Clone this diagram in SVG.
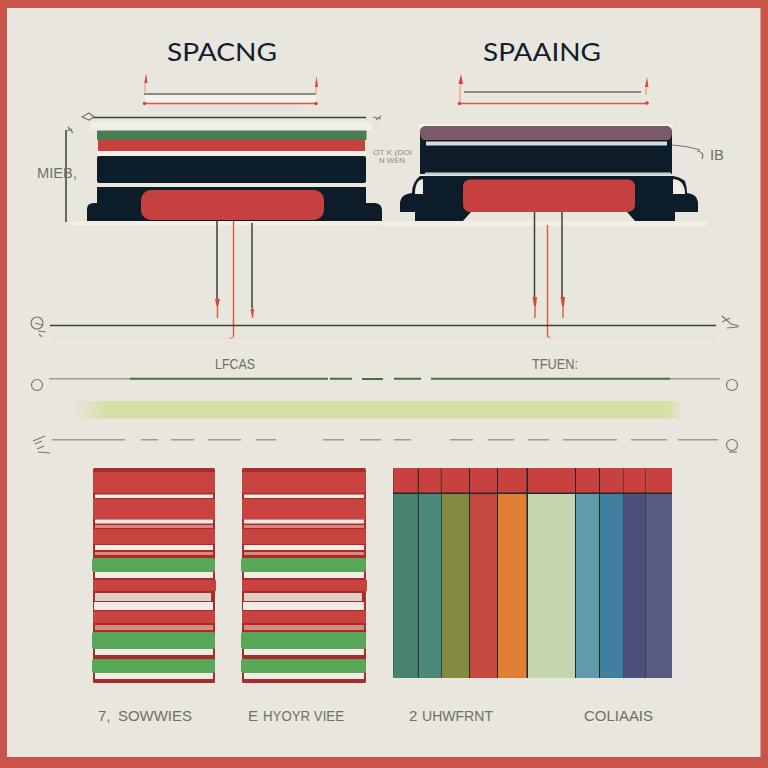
<svg xmlns="http://www.w3.org/2000/svg" width="768" height="768" viewBox="0 0 768 768">
<style>
.navy{fill:#0c1d29}
.red{fill:#c5403f}
.dk{stroke:#3a3f3d;stroke-width:1.5;fill:none}
.rl{stroke:#e0554c;stroke-width:1.4;fill:none}
.gl{stroke:#9b9c92;stroke-width:1.5;fill:none}
.gn{stroke:#4c6e3c;stroke-width:2;fill:none}
.ic{stroke:#77786f;stroke-width:1.2;fill:none}
.ah{fill:#e0433c}
text{font-family:"Liberation Sans",sans-serif}
.title{font-family:"Lato","Liberation Sans",sans-serif;font-size:25px;fill:#10202c}
.lab{font-size:15px;fill:#6f6f68}
.sm{font-size:7px;fill:#8a8a82}
.r{fill:#c8433f}.g{fill:#58a658}.w{fill:#f3ece3}.p{fill:#dcd0c9}.k{fill:#d98a80}
</style>
<defs>
<linearGradient id="band" x1="0" x2="1" y1="0" y2="0"><stop offset="0" stop-color="#d7dea6" stop-opacity="0"/><stop offset="0.06" stop-color="#d7dea6"/><stop offset="0.98" stop-color="#d7dea6"/><stop offset="1" stop-color="#d7dea6" stop-opacity="0.2"/></linearGradient>
<g id="stack">
<rect x="0" y="0" width="122" height="215" rx="1.5" fill="#a92c2c"/>
<rect class="r" y="4" width="122" height="21"/>
<rect class="w" x="2" y="26.500" width="118" height="3.500"/>
<rect class="r" y="31" width="122" height="20"/>
<rect class="w" x="2" y="51.500" width="118" height="4"/>
<rect class="k" x="2" y="57" width="118" height="3"/>
<rect class="r" y="61" width="122" height="15"/>
<rect class="w" x="2" y="77" width="118" height="5"/>
<rect class="k" x="2" y="84" width="118" height="3"/>
<rect class="g" x="-1" y="90" width="123" height="14" rx="2"/>
<rect class="w" x="2" y="104" width="118" height="6"/>
<rect class="r" y="112" width="123" height="11"/>
<rect class="p" x="2" y="125" width="116" height="8"/>
<rect class="w" x="1" y="134" width="119" height="8"/>
<rect class="r" y="143" width="122" height="12"/>
<rect class="k" x="2" y="157" width="118" height="5"/>
<rect class="g" x="-1" y="164" width="123" height="17" rx="2"/>
<rect class="w" x="2" y="181" width="118" height="6"/>
<rect class="g" x="-1" y="191" width="123" height="14" rx="2"/>
<rect class="w" x="2" y="205" width="118" height="6"/>
</g>
</defs>

<rect width="768" height="768" fill="#c9544a"/>
<rect x="7" y="8" width="753.500" height="749" fill="#e9e6de"/>

<g id="title-left"><text class="title" x="167" y="61" textLength="110" lengthAdjust="spacingAndGlyphs">SPACNG</text></g>
<g id="title-right"><text class="title" x="483" y="61" textLength="118" lengthAdjust="spacingAndGlyphs">SPAAING</text></g>

<g id="block-left">
<rect x="90" y="122" width="282" height="9" fill="#f1eee7"/>
<rect x="70" y="221" width="322" height="4" fill="#f3efe7"/>
<rect x="97" y="130.500" width="269.500" height="9.500" fill="#4c7c53"/>
<rect class="red" x="98" y="140" width="267" height="11"/>
<rect x="97" y="151" width="269" height="5" fill="#f3efe7"/>
<rect class="navy" x="97" y="156" width="269" height="27" rx="2"/>
<path class="navy" d="M97 187H366V203H375Q382 204 382 210V221H87V209Q87 203 94 203H97Z"/>
<rect class="red" x="141" y="190" width="183" height="30" rx="10"/>
</g>

<g id="block-right">
<rect x="382" y="221" width="325" height="5" fill="#f3efe7"/>
<rect x="419" y="124" width="254" height="4" fill="#f6f2ea"/>
<path class="navy" d="M420 174V133Q420 126 427 126H665Q672 126 672 133V174Z"/>
<path fill="#7a5a66" d="M420 133Q420 126 427 126H665Q672 126 672 133Q671 140 668 140H424Q421 140 420 133Z"/>
<rect x="426" y="141.500" width="241" height="4" fill="#d9dde0"/>
<path class="navy" d="M420 176H673Q680 177 685 181Q687 187 687 193Q697 194 698 202V212H675V221H635L627 212H471L463 221H415V212H400V202Q401 194 412 193Q412 182 420 176Z"/>
<path fill="#f0ece2" d="M423 179Q415 180 415 194H423Z"/>
<path fill="#f0ece2" d="M673 179Q685 180 685 194H673Z"/>
<rect x="425" y="172.500" width="246" height="2.500" fill="#c3d3d6"/>
<rect class="red" x="463" y="179.500" width="172" height="32.500" rx="7"/>
</g>

<g id="connectors">
<rect x="145" y="95" width="171" height="8" fill="#f3f1ec"/>
<rect x="147" y="104" width="150" height="7" fill="#e3e2dc"/>
<path class="gl" d="M144 94H316" stroke-width="2" style="stroke:#6d6f68"/>
<path class="rl" d="M144 103.500H317"/>
<path class="rl" d="M145 92V80M316 95V82" style="stroke:#eda69d"/>
<path class="ah" d="M146 73L147.500 83H144.500ZM316.500 76L318 87H315ZM461 74L463 84H458.500ZM647 77L648.500 87H645Z"/>
<circle cx="144.500" cy="103.500" r="1.800" fill="#e0433c"/><circle cx="316" cy="103.500" r="1.800" fill="#e0433c"/>
<path class="dk" d="M93 117.500H366"/>
<path class="ic" d="M82 117L89 113L94 117L89 120Z"/>
<path class="ic" d="M373 117L381 119M376 120L381 116"/>
<path class="dk" d="M66 130V222"/>
<path class="ic" d="M66 131L72 129M68 127L73 133"/>

<path class="gl" d="M464 92H641" style="stroke:#6d6f68" stroke-width="2"/>
<path class="rl" d="M459 103.500H647"/>
<path class="rl" d="M460 103V84M646 95V87" style="stroke:#eda69d"/>
<circle cx="459.500" cy="103.500" r="1.800" fill="#e0433c"/><circle cx="647" cy="103" r="1.800" fill="#e0433c"/>
<path class="ic" d="M672 145Q688 146 700 150M697 151Q705 152 702 159"/>

<path class="dk" d="M217 221V300"/><path class="rl" d="M217.500 300V318"/>
<path class="rl" d="M233.500 221V336Q233 339 230 338"/>
<path class="dk" d="M252 223V308"/><path class="rl" d="M252.500 308V318"/>
<path class="dk" d="M534.500 212V298"/><path class="rl" d="M535 298V318"/>
<path class="rl" d="M547.500 225V336L550 338"/>
<path class="dk" d="M562 212V298"/><path class="rl" d="M563 298V318"/>
<path class="ah" d="M215 299H220L218 306H216.500ZM250.500 309H254L253 316H252ZM532.500 297H537L536 306H534ZM560.500 297H565L564 306H562Z"/>

<path class="dk" d="M50 325.500H716"/>
<path d="M50 338H718" stroke="#dcdad0" stroke-width="1" fill="none"/>
<circle class="ic" cx="37" cy="323" r="6"/>
<path class="ic" d="M35 323L42 325M38 331L46 332M39 334L42 337"/>
<path class="ic" d="M722 316L731 324L739 326M722 322L730 318M727 328L738 327"/>

<path class="gl" d="M49 378.700H130M670 378.700H720"/>
<path class="gn" d="M130 378.700H328M330 378.700H352M362 379H383M394 378.700H421M431 378.700H670"/>
<rect x="72" y="401" width="608" height="17.500" fill="url(#band)"/>
<circle class="ic" cx="37" cy="385" r="5.500" stroke-width="1.600"/>
<circle class="ic" cx="732" cy="385" r="5.500" stroke-width="1.600"/>
<path class="gl" d="M52 439.700H125M141 439.700H158M171 439.700H194M208 439.700H241M256 439.700H276M323 439.700H344M360 439.700H381M394 439.700H411M450 439.700H473M488 439.700H514M528 439.700H549M563 439.700H617M631 439.700H667M678 439.700H718"/>
<path class="ic" d="M33 441L45 436M35 444L42 441M37 449L44 446M38 452L50 453" stroke-width="1.500"/>
<circle class="ic" cx="732" cy="445" r="5.500" stroke-width="1.600"/>
<path class="ic" d="M729 452H737" stroke-width="1.500"/>
</g>

<g id="labels">
<text class="lab" x="37" y="178" textLength="40" lengthAdjust="spacingAndGlyphs">MIEB,</text>
<text class="sm" x="373" y="155" textLength="39" lengthAdjust="spacingAndGlyphs">OT K (DOI</text>
<text class="sm" x="379" y="163" textLength="26" lengthAdjust="spacingAndGlyphs">N WEN</text>
<text class="lab" x="710" y="160" textLength="14" lengthAdjust="spacingAndGlyphs">IB</text>
<text class="lab" x="215" y="369" textLength="40" lengthAdjust="spacingAndGlyphs">LFCAS</text>
<text class="lab" x="532" y="369" textLength="46" lengthAdjust="spacingAndGlyphs">TFUEN:</text>
<text class="lab" x="98" y="721">7,</text>
<text class="lab" x="118" y="721" textLength="74" lengthAdjust="spacingAndGlyphs">SOWWIES</text>
<text class="lab" x="248" y="721">E</text>
<text class="lab" x="263" y="721" textLength="81" lengthAdjust="spacingAndGlyphs">HYOYR VIEE</text>
<text class="lab" x="409" y="721">2</text>
<text class="lab" x="422" y="721" textLength="71" lengthAdjust="spacingAndGlyphs">UHWFRNT</text>
<text class="lab" x="584" y="721" textLength="69" lengthAdjust="spacingAndGlyphs">COLIAAIS</text>
</g>

<g id="stack-1"><use href="#stack" x="93" y="468"/></g>
<g id="stack-2"><use href="#stack" transform="translate(242 468) scale(1.016 1)"/></g>

<g id="columns">
<rect x="393" y="468" width="279" height="210" rx="2" fill="#1f2a2c"/>
<rect x="393.300" y="494" width="24.500" height="184" fill="#4a8270"/>
<rect x="418.800" y="494" width="22.500" height="184" fill="#4b8a78"/>
<rect x="442" y="494" width="27" height="184" fill="#848a40"/>
<rect x="470" y="494" width="27" height="184" fill="#c4483e"/>
<rect x="498" y="494" width="28.500" height="184" fill="#e08035"/>
<rect x="528" y="494" width="47" height="184" fill="#c3d6ae"/>
<rect x="576" y="494" width="23" height="184" fill="#5f9bab"/>
<rect x="600" y="494" width="23.500" height="184" fill="#3f7f9f"/>
<rect x="624" y="494" width="21.500" height="184" fill="#4d4f7d"/>
<rect x="646" y="494" width="26" height="184" fill="#595a80"/>
<g fill="#c8413f">
<rect x="393.300" y="468" width="24.500" height="24.500"/>
<rect x="418.800" y="468" width="22" height="24.500"/>
<rect x="441.500" y="468" width="27.500" height="24.500"/>
<rect x="470" y="468" width="27" height="24.500"/>
<rect x="498" y="468" width="28.500" height="24.500"/>
<rect x="528" y="468" width="47" height="24.500"/>
<rect x="576" y="468" width="23" height="24.500"/>
<rect x="600" y="468" width="23.500" height="24.500"/>
<rect x="624" y="468" width="21.500" height="24.500"/>
<rect x="646" y="468" width="26" height="24.500"/>
</g>
</g>
</svg>
